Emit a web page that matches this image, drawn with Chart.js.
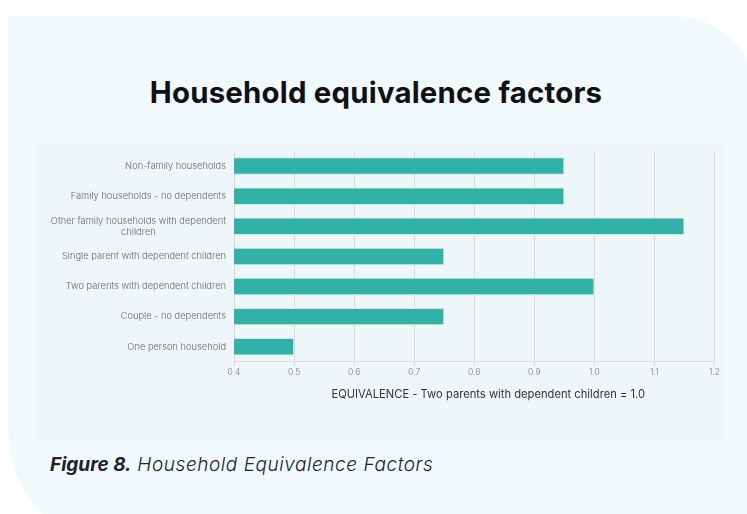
<!DOCTYPE html>
<html>
<head>
<meta charset="utf-8">
<script src="https://cdn.jsdelivr.net/npm/chart.js@4"></script>
<style>
    html, body {
        margin: 0;
        padding: 0;
        width: 747px;
        height: 514px;
        overflow: hidden;
        background: #ffffff;
        font-family: Inter, "Noto Sans", sans-serif;
    }
    #card {
        position: absolute;
        left: 8px;
        top: 16px;
        width: 750px;
        height: 534px;
        background: #f0f9fc;
        border-top-right-radius: 85px;
        border-bottom-left-radius: 120px;
    }
    #title {
        position: absolute;
        left: 0;
        top: 75px;
        width: 752px;
        text-align: center;
        font-size: 29.4px;
        font-weight: 700;
        color: #111111;
        letter-spacing: 0.2px;
    }
    #panel {
        position: absolute;
        left: 38px;
        top: 143px;
        width: 684px;
        height: 297px;
        background: #eef6f9;
    }
    #caption {
        position: absolute;
        left: 50px;
        top: 453px;
        font-size: 19px;
        font-style: italic;
        font-weight: 300;
        letter-spacing: 0.55px;
        color: #222222;
    }
    #caption b {
        font-weight: 700;
        letter-spacing: 0;
    }
</style>
</head>
<body>
<div id="card"></div>
<div id="title">Household equivalence factors</div>
<div id="panel"><canvas id="myChart" width="684" height="297"></canvas></div>
<div id="caption"><b>Figure 8.</b> Household Equivalence Factors</div>

<script>
"use strict";

const categories = [
    'Non-family households',
    'Family households - no dependents',
    ['Other family households with dependent', 'children'],
    'Single parent with dependent children',
    'Two parents with dependent children',
    'Couple - no dependents',
    'One person household',
];
const factors = [0.95, 0.95, 1.15, 0.75, 1.0, 0.75, 0.5];
const xTicks = [0.4, 0.5, 0.6, 0.7, 0.8, 0.9, 1.0, 1.1, 1.2];
const axisTitle = 'EQUIVALENCE - Two parents with dependent children = 1.0';

const barColor = '#32b2a6';
const gridColor = '#d9d9d9';
const fontFamily = 'Inter, "Noto Sans", sans-serif';

// category labels: single lines right-aligned, wrapped ones centred in their block;
// the axis title sits a little right of the plot centre
const axisText = {
    id: 'axisText',
    afterDraw(chart) {
        const ctx = chart.ctx;
        const yScale = chart.scales.y;
        const xScale = chart.scales.x;
        const right = chart.chartArea.left - 8;
        const lineHeight = 11;
        ctx.save();
        ctx.font = '300 9.3px ' + fontFamily;
        ctx.fillStyle = '#666666';
        ctx.textBaseline = 'middle';
        categories.forEach((label, i) => {
            const y = yScale.getPixelForTick(i);
            const lines = Array.isArray(label) ? label : [label];
            const widest = Math.max(...lines.map(l => ctx.measureText(l).width));
            const top = y - (lines.length - 1) * lineHeight / 2;
            lines.forEach((line, j) => {
                if (lines.length > 1) {
                    ctx.textAlign = 'center';
                    ctx.fillText(line, right - widest / 2, top + j * lineHeight);
                } else {
                    ctx.textAlign = 'right';
                    ctx.fillText(line, right, top);
                }
            });
        });

        ctx.font = '400 11.2px ' + fontFamily;
        ctx.fillStyle = '#333333';
        ctx.textAlign = 'center';
        ctx.fillText(axisTitle, (xScale.left + xScale.right) / 2 + 14, xScale.bottom + 15);
        ctx.restore();
    }
};

new Chart(document.getElementById('myChart'), {
    type: 'bar',
    data: {
        labels: categories,
        datasets: [{
            data: factors,
            backgroundColor: barColor,
            borderColor: '#c8ece7',
            borderWidth: 1,
            borderSkipped: false,
            barPercentage: 0.58,
            categoryPercentage: 1.0,
        }],
    },
    options: {
        indexAxis: 'y',
        responsive: false,
        animation: false,
        layout: {
            padding: {left: 188, right: 5, top: 8, bottom: 60},
        },
        plugins: {
            legend: {display: false},
            tooltip: {enabled: false},
        },
        scales: {
            x: {
                min: xTicks[0],
                max: xTicks[xTicks.length - 1],
                afterBuildTicks(scale) {
                    scale.ticks = xTicks.map(value => ({value}));
                },
                grid: {
                    color: gridColor,
                    lineWidth: 1,
                    drawTicks: true,
                    tickLength: 4,
                },
                border: {display: true, color: gridColor},
                ticks: {
                    color: '#7a7a7a',
                    font: {family: fontFamily, size: 8.5, weight: 300},
                    padding: 2,
                    callback: value => Number(value).toFixed(1),
                },
            },
            y: {
                grid: {display: false},
                border: {display: false},
                ticks: {display: false},
            },
        },
    },
    plugins: [axisText],
});
</script>
</body>
</html>
